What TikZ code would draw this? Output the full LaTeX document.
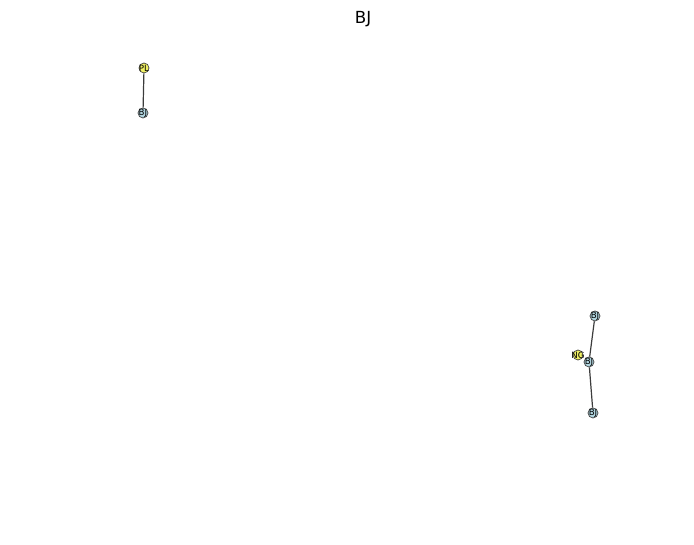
\documentclass[tikz,border=0pt]{standalone}
\usepackage{fontspec}
\setmainfont{DejaVu Sans}
\usepackage{tikz}

\definecolor{bjblue}{RGB}{176,212,222}
\definecolor{plyellow}{RGB}{240,240,100}
\definecolor{edgegray}{RGB}{60,60,60}

\tikzset{
  vert/.style={circle, draw=edgegray, line width=0.5pt, minimum size=7.5pt, inner sep=0pt},
  bjv/.style={vert, fill=bjblue},
  otherv/.style={vert, fill=plyellow},
  vlabel/.style={font=\fontsize{6.5}{7}\selectfont, inner sep=0pt},
  link/.style={draw=edgegray, line width=0.9pt}
}

\begin{document}
\begin{tikzpicture}[x=0.75pt, y=-0.75pt]
  \useasboundingbox (0,0) rectangle (694,545);

  \node[font=\fontsize{12.5}{14}\selectfont] (title) at (363,19) {BJ};

  % Left component
  \node[otherv] (pl) at (144,68) {};
  \node[bjv] (bja) at (143,113) {};

  % Right component
  \node[bjv] (bjb) at (595,316) {};
  \node[bjv] (bjd) at (593,413) {};
  \node[otherv] (ng) at (578,355) {};
  \node[bjv] (bjc) at (589,362) {};

  \draw[link] (pl) -- (bja);
  \draw[link] (bjc) -- (bjb);
  \draw[link] (bjc) -- (bjd);

  % Labels on top
  \node[vlabel] at (pl) {PL};
  \node[vlabel] at (bja) {BJ};
  \node[vlabel] at (bjb) {BJ};
  \node[vlabel] at (bjd) {BJ};
  \node[vlabel] at (ng) {NG};
  \node[vlabel] at (bjc) {BJ};
\end{tikzpicture}
\end{document}
